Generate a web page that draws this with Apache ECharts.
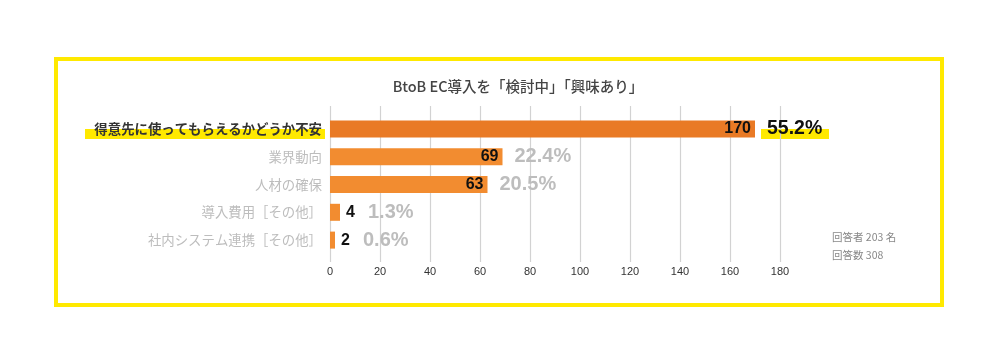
<!DOCTYPE html>
<html><head><meta charset="utf-8">
<script src="https://cdn.jsdelivr.net/npm/echarts@6/dist/echarts.min.js"></script>
<style>html,body{margin:0;padding:0;background:#fff}#c{width:1000px;height:360px}</style>
</head><body><div id="c"></div>
<script>
const titleText = 'BtoB EC導入を「検討中」「興味あり」';
const categories = ['得意先に使ってもらえるかどうか不安', '業界動向', '人材の確保', '導入費用［その他］', '社内システム連携［その他］'];
const values = [170, 69, 63, 4, 2];
const percents = ['55.2%', '22.4%', '20.5%', '1.3%', '0.6%'];
const xTicks = [0, 20, 40, 60, 80, 100, 120, 140, 160, 180];
const notes = ['回答者 203 名', '回答数 308'];

const JP = '"Noto Sans CJK JP", sans-serif';
const NUM = '"Liberation Sans Narrow", "Liberation Sans", Arial, sans-serif';
const NUMW = '"Liberation Sans", Arial, sans-serif';
const YEL = '#FFE900';

const chart = echarts.init(document.getElementById('c'), null, {renderer: 'canvas'});
const option = {
  animation: false,
  backgroundColor: '#fff',
  title: {
    text: titleText, left: 513, top: 74, textAlign: 'center',
    textStyle: {fontFamily: JP, fontSize: 14.5, fontWeight: 500, color: '#444'}
  },
  grid: [
    {left: 330, width: 450, top: 115, height: 139},
    {left: 330, width: 450, top: 106, height: 156}
  ],
  xAxis: [
    {gridIndex: 0, type: 'value', min: 0, max: 180, interval: 20, show: false},
    {gridIndex: 1, type: 'value', min: xTicks[0], max: xTicks[xTicks.length - 1], interval: 20,
     axisLine: {show: false}, axisTick: {show: false},
     splitLine: {show: true, lineStyle: {color: '#D2D2D2', width: 1.2}},
     axisLabel: {margin: 4, fontFamily: NUMW, fontSize: 11, color: '#333'}}
  ],
  yAxis: [
    {gridIndex: 0, type: 'category', data: categories, inverse: true,
     axisLine: {show: false}, axisTick: {show: false}, splitLine: {show: false},
     axisLabel: {
       margin: 8, fontFamily: JP, fontSize: 13.4,
       formatter: (v, i) => i === 0 ? '{h|' + v + '}' : '{n|' + v + '}',
       rich: {
         h: {fontFamily: JP, fontSize: 13.4, color: '#333', fontWeight: 'bold'},
         n: {fontFamily: JP, fontSize: 13.4, color: '#BDBDBD'}
       }
     }},
    {gridIndex: 1, type: 'value', show: false}
  ],
  series: [
    {
      type: 'bar', xAxisIndex: 0, yAxisIndex: 0, barWidth: 17, z: 3,
      data: values.map((v, i) => ({
        value: v,
        itemStyle: {color: i === 0 ? '#E97A25' : '#F28C30'},
        label: {position: v < 10 ? 'right' : 'insideRight', distance: v < 10 ? 6 : 4}
      })),
      label: {show: true, formatter: '{c}', fontFamily: NUM, fontWeight: 'bold', fontSize: 16, color: '#111'}
    },
    {
      type: 'bar', xAxisIndex: 0, yAxisIndex: 0, barWidth: 17, barGap: '-100%', silent: true, z: 4,
      itemStyle: {color: 'rgba(0,0,0,0)'},
      data: values.map((v, i) => ({
        value: v,
        label: {distance: v < 10 ? 28 : 12}
      })),
      label: {
        show: true, position: 'right',
        formatter: p => (p.dataIndex === 0 ? '{a|' : '{b|') + percents[p.dataIndex] + '}',
        rich: {
          a: {fontFamily: NUMW, fontWeight: 'bold', fontSize: 19.5, color: '#111'},
          b: {fontFamily: NUMW, fontWeight: 'bold', fontSize: 20, color: '#BDBDBD'}
        }
      }
    }
  ]
};
chart.setOption(option);

const p0 = chart.convertToPixel({xAxisIndex: 0, yAxisIndex: 0}, [values[0], 0]);
const pZero = chart.convertToPixel({xAxisIndex: 0, yAxisIndex: 0}, [0, 0]);
chart.setOption({
  graphic: [
    {type: 'rect', z: 100, shape: {x: 56, y: 59, width: 886, height: 246},
     style: {fill: null, stroke: YEL, lineWidth: 4}},
    {type: 'rect', z: -1, shape: {x: 85, y: p0[1] + 0, width: pZero[0] - 5 - 85, height: 10},
     style: {fill: YEL}},
    {type: 'rect', z: -1, shape: {x: p0[0] + 6, y: p0[1] + 0, width: 68, height: 10},
     style: {fill: YEL}},
    {type: 'text', left: 832, top: 232, style: {text: notes[0], fontFamily: JP, fontSize: 10.5, fill: '#888'}},
    {type: 'text', left: 832, top: 250, style: {text: notes[1], fontFamily: JP, fontSize: 10.5, fill: '#888'}}
  ]
});
</script></body></html>
